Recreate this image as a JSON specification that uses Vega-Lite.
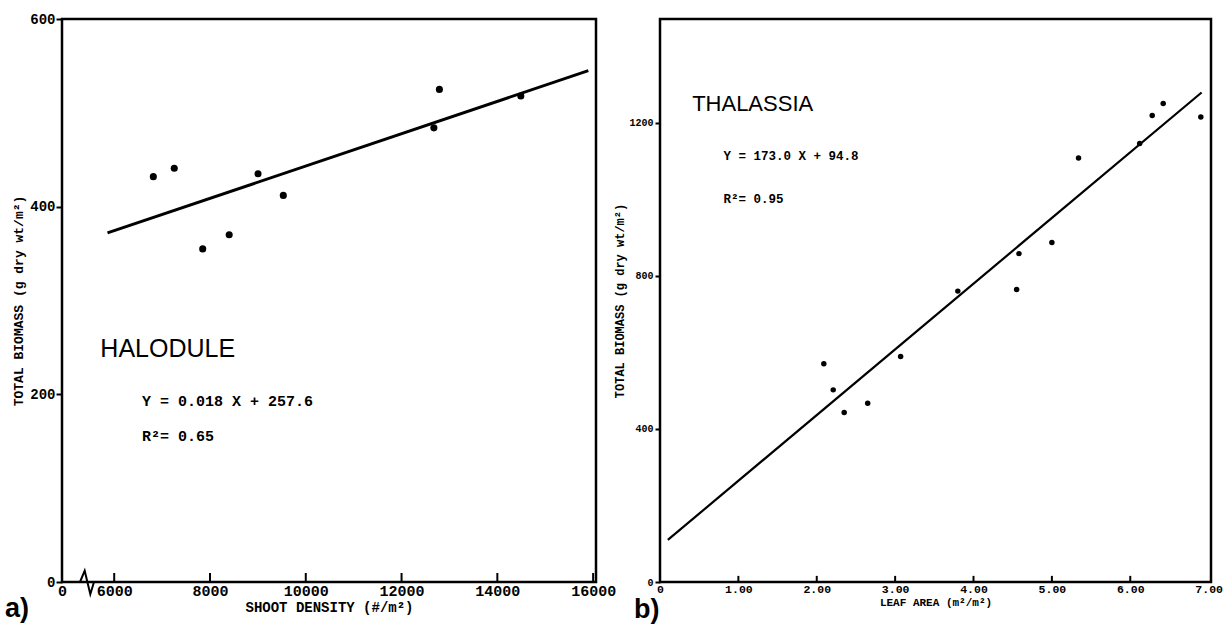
{
  "$schema": "https://vega.github.io/schema/vega-lite/v6.json",
  "background": "white",
  "padding": {"left": 3, "top": 10, "right": 0, "bottom": 2},
  "spacing": 64,
  "bounds": "flush",
  "datasets": {
    "halodule": [
      {"density": 6817, "biomass": 432},
      {"density": 7254, "biomass": 441},
      {"density": 7848, "biomass": 355},
      {"density": 8401, "biomass": 370},
      {"density": 9003, "biomass": 435},
      {"density": 9531, "biomass": 412},
      {"density": 12675, "biomass": 484},
      {"density": 12790, "biomass": 525},
      {"density": 14490, "biomass": 518}
    ],
    "haloduleFit": [
      {"density": 5860, "biomass": 372},
      {"density": 15900, "biomass": 545}
    ],
    "haloduleBreak": [
      {"density": 5286, "biomass": 0, "o": 1},
      {"density": 5384, "biomass": 12, "o": 2},
      {"density": 5501, "biomass": -13, "o": 3},
      {"density": 5578, "biomass": 0, "o": 4}
    ],
    "haloduleTicks": [
      {"density": 6000}, {"density": 8000}, {"density": 10000},
      {"density": 12000}, {"density": 14000}, {"density": 16000}
    ],
    "haloduleName": [{"density": 5711, "biomass": 240, "label": "HALODULE"}],
    "haloduleEq": [
      {"density": 6578, "biomass": 188, "label": "Y = 0.018 X + 257.6"},
      {"density": 6578, "biomass": 150, "label": "R²= 0.65"}
    ],
    "thalassia": [
      {"leaf": 2.09, "biomass": 570},
      {"leaf": 2.21, "biomass": 502},
      {"leaf": 2.35, "biomass": 443},
      {"leaf": 2.65, "biomass": 467},
      {"leaf": 3.07, "biomass": 589},
      {"leaf": 3.80, "biomass": 760},
      {"leaf": 4.55, "biomass": 764},
      {"leaf": 4.58, "biomass": 858},
      {"leaf": 5.00, "biomass": 887},
      {"leaf": 5.34, "biomass": 1108},
      {"leaf": 6.12, "biomass": 1146},
      {"leaf": 6.28, "biomass": 1219},
      {"leaf": 6.42, "biomass": 1250},
      {"leaf": 6.90, "biomass": 1215}
    ],
    "thalassiaFit": [
      {"leaf": 0.10, "biomass": 110},
      {"leaf": 6.91, "biomass": 1279}
    ],
    "thalassiaTicks": [
      {"leaf": 1}, {"leaf": 2}, {"leaf": 3}, {"leaf": 4}, {"leaf": 5}, {"leaf": 6}
    ],
    "thalassiaName": [{"leaf": 0.41, "biomass": 1230, "label": "THALASSIA"}],
    "thalassiaEq": [
      {"leaf": 0.81, "biomass": 1102, "label": "Y = 173.0 X + 94.8"},
      {"leaf": 0.81, "biomass": 990, "label": "R²= 0.95"}
    ]
  },
  "config": {
    "view": {"stroke": "black", "strokeWidth": 2.5},
    "axis": {
      "domain": false,
      "grid": false,
      "tickColor": "black",
      "tickWidth": 2,
      "labelColor": "black",
      "titleColor": "black",
      "labelFont": "Liberation Mono",
      "labelFontWeight": "bold",
      "titleFont": "Liberation Mono",
      "titleFontWeight": "bold"
    }
  },
  "hconcat": [
    {
      "width": 534,
      "height": 563,
      "title": {"text": "a)", "orient": "bottom", "anchor": "start", "frame": "group", "font": "Liberation Sans", "fontSize": 27, "fontWeight": "bold", "color": "black", "dx": -57, "offset": -18},
      "layer": [
        {
          "data": {"name": "haloduleFit"},
          "mark": {"type": "line", "color": "black", "strokeWidth": 3},
          "encoding": {
            "x": {"field": "density", "type": "quantitative", "scale": {"domain": [4910, 16060], "nice": false, "zero": false},
              "axis": {"title": "SHOOT DENSITY (#/m²)", "values": [4910, 6000, 8000, 10000, 12000, 14000, 16000], "format": "d", "labelExpr": "datum.value < 5000 ? '0' : datum.label", "ticks": false, "labelPadding": 1, "labelFontSize": 15, "titleFontSize": 14, "titlePadding": 2, "labelFlush": false}},
            "y": {"field": "biomass", "type": "quantitative", "scale": {"domain": [0, 600], "nice": false},
              "axis": {"title": "TOTAL BIOMASS (g dry wt/m²)", "values": [0, 200, 400, 600], "tickSize": 6, "labelPadding": 1, "labelFontSize": 14, "titleFontSize": 13, "titlePadding": 4, "labelFlush": false}}
          }
        },
        {
          "data": {"name": "haloduleTicks"},
          "mark": {"type": "rule", "color": "black", "strokeWidth": 2},
          "encoding": {
            "x": {"field": "density", "type": "quantitative"},
            "y": {"datum": 0, "type": "quantitative"},
            "y2": {"datum": 9.6}
          }
        },
        {
          "data": {"name": "haloduleBreak"},
          "mark": {"type": "line", "color": "black", "strokeWidth": 2, "clip": false},
          "encoding": {
            "x": {"field": "density", "type": "quantitative"},
            "y": {"field": "biomass", "type": "quantitative"},
            "order": {"field": "o"}
          }
        },
        {
          "data": {"name": "halodule"},
          "mark": {"type": "circle", "color": "black", "opacity": 1, "size": 50},
          "encoding": {
            "x": {"field": "density", "type": "quantitative"},
            "y": {"field": "biomass", "type": "quantitative"}
          }
        },
        {
          "data": {"name": "haloduleName"},
          "mark": {"type": "text", "align": "left", "baseline": "alphabetic", "font": "Liberation Sans", "fontSize": 25, "color": "black"},
          "encoding": {
            "x": {"field": "density", "type": "quantitative"},
            "y": {"field": "biomass", "type": "quantitative"},
            "text": {"field": "label"}
          }
        },
        {
          "data": {"name": "haloduleEq"},
          "mark": {"type": "text", "align": "left", "baseline": "alphabetic", "font": "Liberation Mono", "fontWeight": "bold", "fontSize": 15, "color": "black"},
          "encoding": {
            "x": {"field": "density", "type": "quantitative"},
            "y": {"field": "biomass", "type": "quantitative"},
            "text": {"field": "label"}
          }
        }
      ]
    },
    {
      "width": 551,
      "height": 563,
      "title": {"text": "b)", "orient": "bottom", "anchor": "start", "frame": "group", "font": "Liberation Sans", "fontSize": 27, "fontWeight": "bold", "color": "black", "dx": -26, "offset": -11},
      "layer": [
        {
          "data": {"name": "thalassiaFit"},
          "mark": {"type": "line", "color": "black", "strokeWidth": 2.2},
          "encoding": {
            "x": {"field": "leaf", "type": "quantitative", "scale": {"domain": [0, 7.03], "nice": false},
              "axis": {"title": "LEAF AREA (m²/m²)", "values": [0, 1, 2, 3, 4, 5, 6, 7], "labelExpr": "datum.value == 0 ? '0' : format(datum.value, '.2f')", "ticks": false, "labelPadding": 1, "labelFontSize": 11.5, "titleFontSize": 11, "titlePadding": 2, "labelFlush": false}},
            "y": {"field": "biomass", "type": "quantitative", "scale": {"domain": [0, 1471], "nice": false},
              "axis": {"title": "TOTAL BIOMASS (g dry wt/m²)", "values": [0, 400, 800, 1200], "format": "d", "tickSize": 5, "labelPadding": 2, "labelFontSize": 10, "titleFontSize": 12, "titlePadding": 2, "labelFlush": false}}
          }
        },
        {
          "data": {"name": "thalassiaTicks"},
          "mark": {"type": "rule", "color": "black", "strokeWidth": 2},
          "encoding": {
            "x": {"field": "leaf", "type": "quantitative"},
            "y": {"datum": 0, "type": "quantitative"},
            "y2": {"datum": 16}
          }
        },
        {
          "data": {"name": "thalassia"},
          "mark": {"type": "circle", "color": "black", "opacity": 1, "size": 30},
          "encoding": {
            "x": {"field": "leaf", "type": "quantitative"},
            "y": {"field": "biomass", "type": "quantitative"}
          }
        },
        {
          "data": {"name": "thalassiaName"},
          "mark": {"type": "text", "align": "left", "baseline": "alphabetic", "font": "Liberation Sans", "fontSize": 22, "color": "black"},
          "encoding": {
            "x": {"field": "leaf", "type": "quantitative"},
            "y": {"field": "biomass", "type": "quantitative"},
            "text": {"field": "label"}
          }
        },
        {
          "data": {"name": "thalassiaEq"},
          "mark": {"type": "text", "align": "left", "baseline": "alphabetic", "font": "Liberation Mono", "fontWeight": "bold", "fontSize": 12.5, "color": "black"},
          "encoding": {
            "x": {"field": "leaf", "type": "quantitative"},
            "y": {"field": "biomass", "type": "quantitative"},
            "text": {"field": "label"}
          }
        }
      ]
    }
  ]
}
